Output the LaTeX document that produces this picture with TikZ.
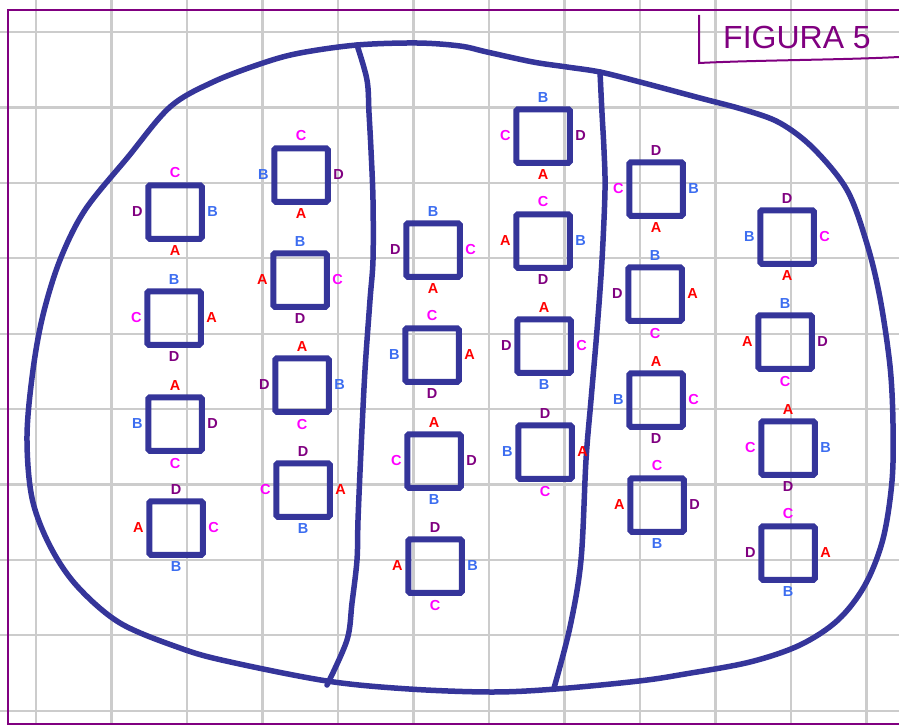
\documentclass[tikz,border=0pt]{standalone}
\usepackage{fontspec}
\setmainfont{Liberation Sans}
\usetikzlibrary{positioning}
\definecolor{InkBlue}{HTML}{35359A}
\definecolor{GridGray}{HTML}{CCCCCC}
\definecolor{FramePurple}{HTML}{800080}
\definecolor{LetterRed}{HTML}{FF0000}
\definecolor{LetterBlue}{HTML}{3C6DF0}
\definecolor{LetterPink}{HTML}{FF00FF}
\definecolor{LetterPurple}{HTML}{800080}
\tikzset{
  % Grid paper
  GR/.style={GridGray,line width=2.2pt},
  % Outer frame
  FR/.style={FramePurple,line width=2.5pt},
  % Blob and dividers
  BL/.style={InkBlue,line width=5.5pt,line cap=round,line join=round},
  % Square tile
  SQ/.style={rectangle,draw=InkBlue,line width=6pt,rounded corners=1.5pt,
             minimum size=53.5pt,inner sep=0pt},
  % Side letters
  LB/.style={inner sep=1pt,font=\fontsize{14.5}{15}\selectfont\bfseries},
  lA/.style={LB,text=LetterRed},
  lB/.style={LB,text=LetterBlue},
  lC/.style={LB,text=LetterPink},
  lD/.style={LB,text=LetterPurple}
}
% tile: name, position, top, right, bottom, left
\newcommand{\sqtile}[6]{%
  \node[SQ] (#1) at (#2) {};
  \node[l#3,above=3pt of #1.north] (#1-t) {#3};
  \node[l#4,right=1.5pt of #1.east] (#1-r) {#4};
  \node[l#5,below=3pt of #1.south] (#1-b) {#5};
  \node[l#6,left=1.5pt of #1.west] (#1-l) {#6};
}
\begin{document}
\begin{tikzpicture}[x=1pt,y=-1pt]
  \useasboundingbox (0,0) rectangle (899,725);
  % grid paper
  \foreach \gx in {0,...,11}
    \draw[GR] ({36+75.5*\gx},0) -- ({36+75.5*\gx},725);
  \foreach \gy in {0,...,9}
    \draw[GR] (0,{32+75.4*\gy}) -- (899,{32+75.4*\gy});
  \draw[FR] (899,10) -- (8,10) -- (8,724) -- (899,724);
  % title
  \node[font=\fontsize{32}{32}\selectfont,text=FramePurple] (title) at (797,37) {FIGURA 5};
  \draw[FramePurple,line width=2pt] (699,15) -- (699,63) .. controls (760,60) and (840,60) .. (899,57);
  % blob
  \draw[BL] plot[smooth cycle,tension=0.55] coordinates {
    (357,45) (417,43) (460,46) (487,52) (533,62) (567,67) (600,72) (640,82)
    (700,98) (745,110) (780,123) (813,148) (847,190) (867,244) (880,298)
    (890,366) (893,424) (892,481) (883,539) (865,585) (838,620) (800,645)
    (750,662) (685,674) (639,681) (556,689) (492,692) (409,689) (327,681)
    (226,661) (180,648) (120,623) (77,586) (50,546) (32,498) (27,436)
    (33,370) (43,315) (60,260) (85,210) (128,157) (170,107)
    (213,82) (263,63) (300,53)};
  % dividers
  \draw[BL] plot[smooth,tension=0.55] coordinates {
    (357,45) (367,80) (369,113) (371,150) (373,200) (373,260) (370,300)
    (365,370) (361,450) (358,520) (357,560) (352,603) (347,640) (327,685)};
  \draw[BL] plot[smooth,tension=0.55] coordinates {
    (600,72) (602,113) (604,150) (605,190) (602,260) (597,330) (591,400)
    (586,460) (581,560) (570,627) (554,688)};
  % column 1
  \sqtile{a1}{175,212}{C}{B}{A}{D}
  \sqtile{a2}{174,318}{B}{A}{D}{C}
  \sqtile{a3}{175,424}{A}{D}{C}{B}
  \sqtile{a4}{176,528}{D}{C}{B}{A}
  % column 2
  \sqtile{b1}{301,175}{C}{D}{A}{B}
  \sqtile{b2}{300,280}{B}{C}{D}{A}
  \sqtile{b3}{302,385}{A}{B}{C}{D}
  \sqtile{b4}{303,490}{D}{A}{B}{C}
  % column 3
  \sqtile{c1}{433,250}{B}{C}{A}{D}
  \sqtile{c2}{432,355}{C}{A}{D}{B}
  \sqtile{c3}{434,461}{A}{D}{B}{C}
  \sqtile{c4}{435,566}{D}{B}{C}{A}
  % column 4
  \sqtile{d1}{543,136}{B}{D}{A}{C}
  \sqtile{d2}{543,241}{C}{B}{D}{A}
  \sqtile{d3}{544,346}{A}{C}{B}{D}
  \sqtile{d4}{545,452}{D}{A}{C}{B}
  % column 5
  \sqtile{e1}{656,189}{D}{B}{A}{C}
  \sqtile{e2}{655,294}{B}{A}{C}{D}
  \sqtile{e3}{656,400}{A}{C}{D}{B}
  \sqtile{e4}{657,505}{C}{D}{B}{A}
  % column 6
  \sqtile{f1}{787,237}{D}{C}{A}{B}
  \sqtile{f2}{785,342}{B}{D}{C}{A}
  \sqtile{f3}{788,448}{A}{B}{D}{C}
  \sqtile{f4}{788,553}{C}{A}{B}{D}
\end{tikzpicture}
\end{document}
